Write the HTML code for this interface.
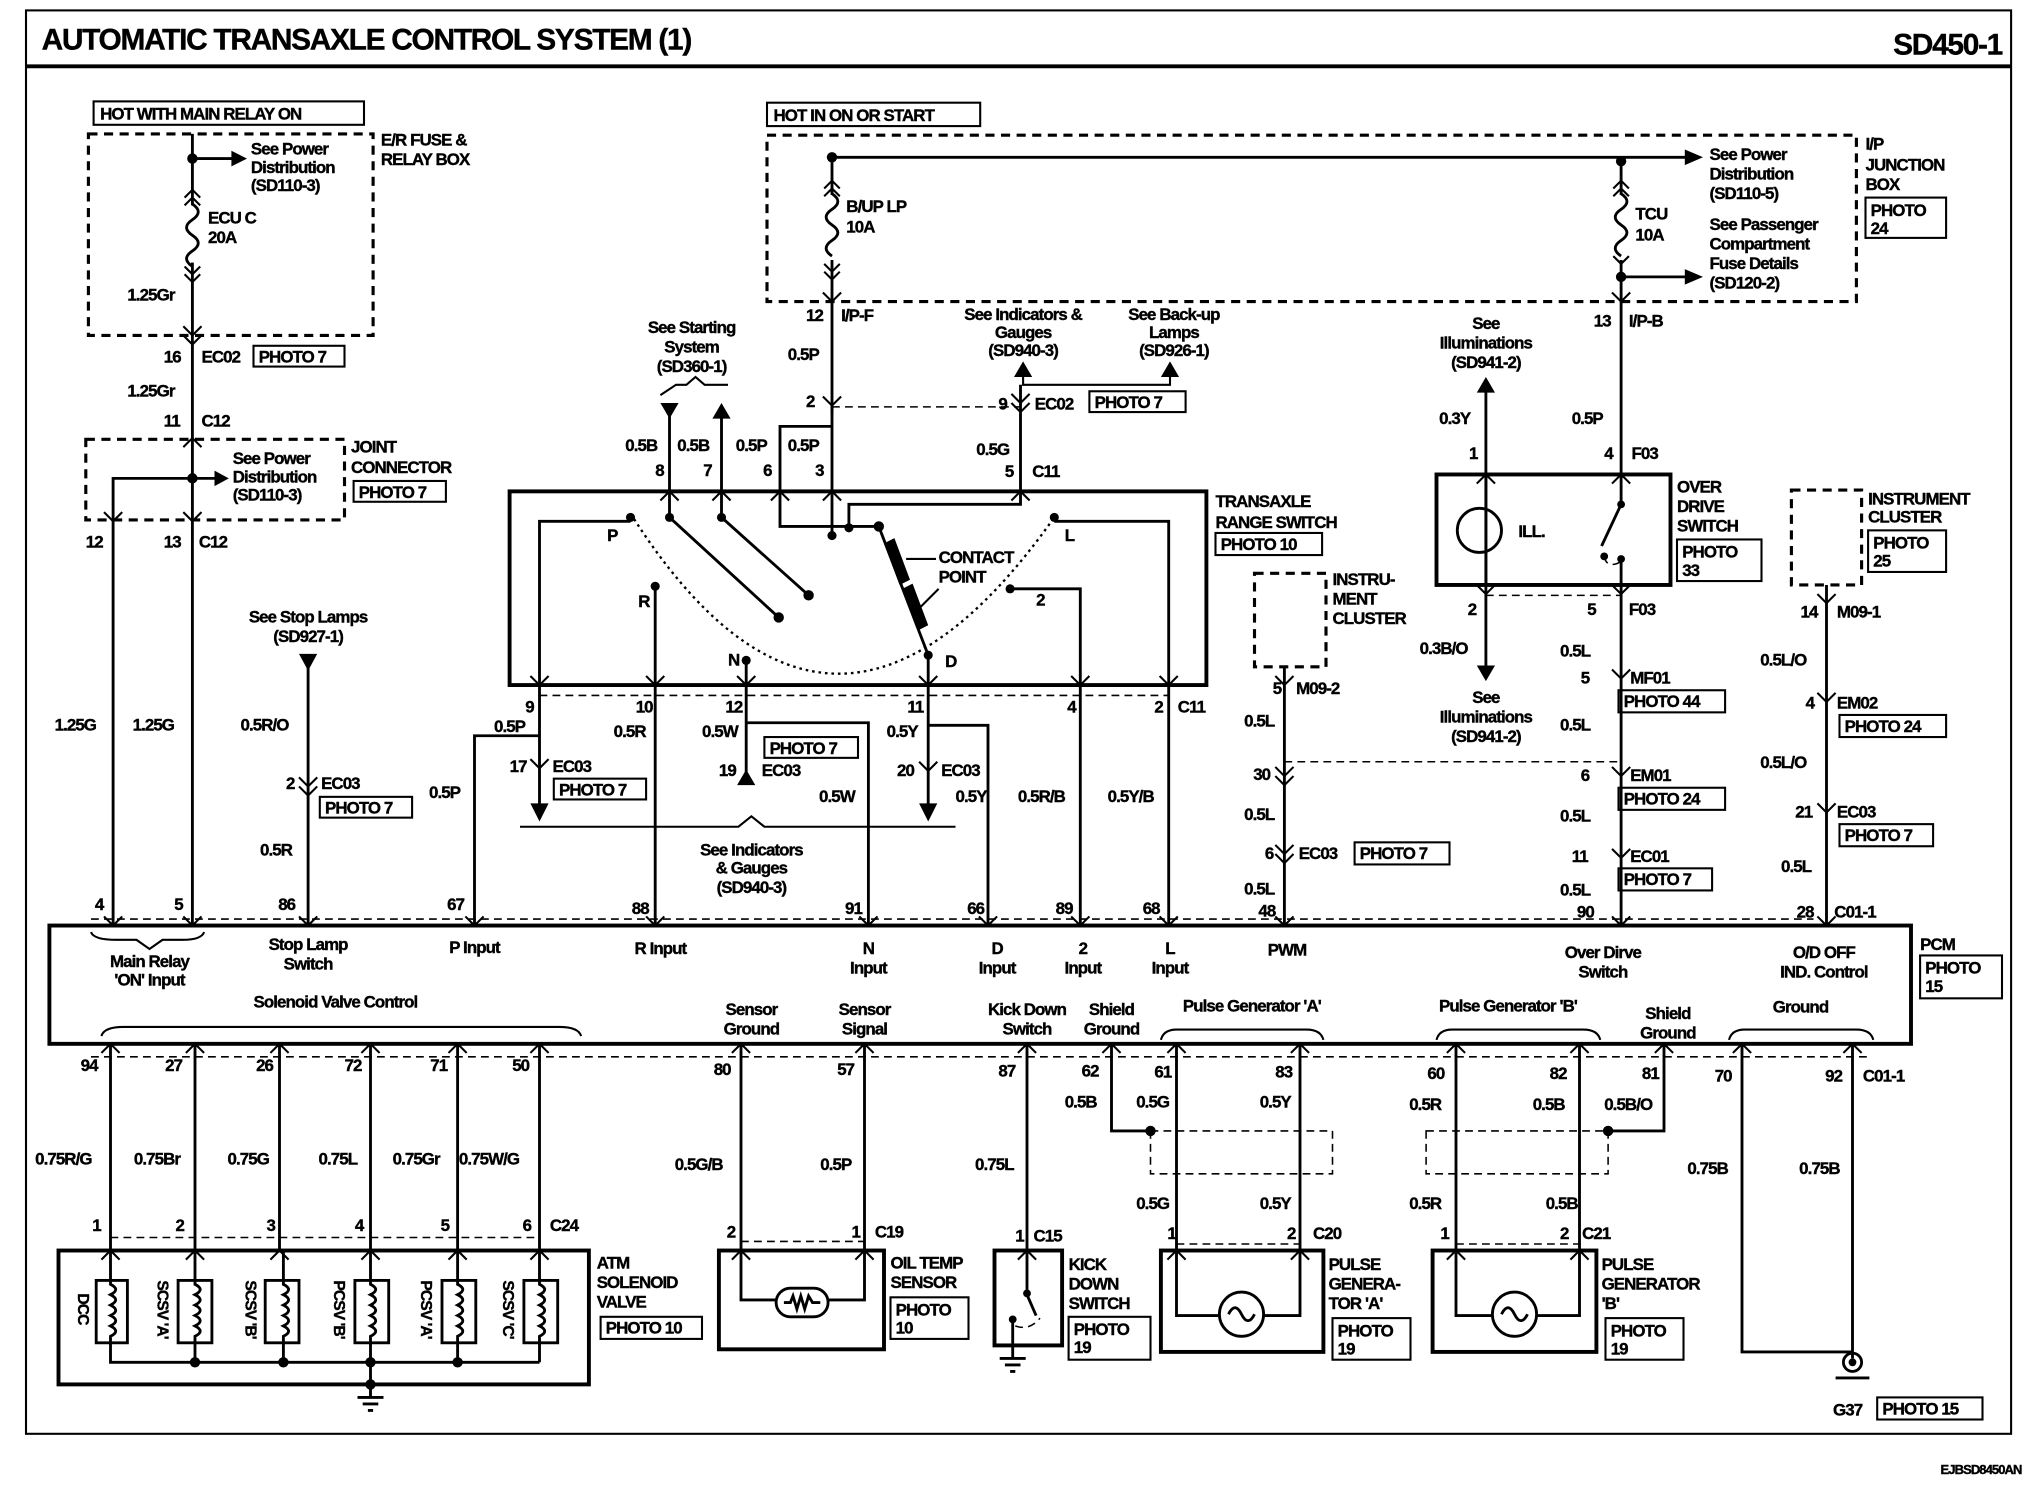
<!DOCTYPE html>
<html><head><meta charset="utf-8"><style>
html,body{margin:0;padding:0;background:#fff;}
svg{display:block}
text{font-family:"Liberation Sans",Arial,sans-serif;font-weight:bold;font-size:13px;letter-spacing:-0.7px;fill:#000;stroke:#000;stroke-width:0.3px}
.w{stroke:#000;stroke-width:2.2;fill:none}
.d{stroke:#000;stroke-width:2.4;fill:none;stroke-dasharray:7,5}
.dt{stroke:#000;stroke-width:1.2;fill:none;stroke-dasharray:6,4}
.b{stroke:#000;stroke-width:1.6;fill:none}
.bx{stroke:#000;stroke-width:3;fill:none}
.c{stroke:#000;stroke-width:1.6;fill:none}
</style></head><body>
<svg width="2028" height="1504" viewBox="0 0 1560 1157" preserveAspectRatio="none" xmlns="http://www.w3.org/2000/svg">
<!-- frame -->
<rect x="20" y="8" width="1527" height="1095" class="b" stroke-width="1.5"/>
<line x1="20" y1="51" x2="1547" y2="51" stroke="#000" stroke-width="3"/>
<text x="32" y="38" style="font-size:23px;letter-spacing:-1px">AUTOMATIC TRANSAXLE CONTROL SYSTEM (1)</text>
<text x="1540" y="42" text-anchor="end" style="font-size:23px;letter-spacing:-1px">SD450-1</text>
<text x="1555" y="1134" text-anchor="end" style="font-size:10px">EJBSD8450AN</text>

<!-- LEFT POWER -->
<rect x="72" y="78" width="208" height="18" class="b"/><text x="77" y="92">HOT WITH MAIN RELAY ON</text>
<rect x="68" y="103" width="219" height="155" class="d"/>
<text x="293" y="112">E/R FUSE &amp;</text><text x="293" y="127">RELAY BOX</text>
<path class="w" d="M148 103 V712"/>
<circle cx="148" cy="122" r="4"/>
<path class="w" d="M148 122 H180"/><path d="M178 116 L190 122 L178 128Z"/>
<text x="193" y="119">See Power</text><text x="193" y="133">Distribution</text><text x="193" y="147">(SD110-3)</text>
<rect x="140" y="158" width="16" height="44" fill="#fff"/>
<path class="w" d="M148 157 q9 6 0 12 q-9 6 0 12 q9 6 0 12 q-9 6 0 12"/>
<path class="c" d="M142 152 L148 146 L154 152 M142 158 L148 152 L154 158 M142 205 L148 211 L154 205 M142 211 L148 217 L154 211"/>
<text x="160" y="172">ECU C</text><text x="160" y="187">20A</text>
<text x="98" y="231">1.25Gr</text>
<path class="c" d="M141 251 L148 258 L155 251 M141 258 L148 265 L155 258"/>
<text x="126" y="279">16</text><text x="155" y="279">EC02</text>
<rect x="195" y="266" width="70" height="16" class="b"/><text x="199" y="279">PHOTO 7</text>
<text x="98" y="305">1.25Gr</text>
<text x="126" y="328">11</text><text x="155" y="328">C12</text>
<path class="c" d="M141 344 L148 337 L155 344"/>
<rect x="66" y="338" width="199" height="62" class="d"/>
<text x="270" y="348">JOINT</text><text x="270" y="364">CONNECTOR</text>
<rect x="272" y="370" width="71" height="16" class="b"/><text x="276" y="383">PHOTO 7</text>
<circle cx="148" cy="368" r="4"/>
<path class="w" d="M148 368 H166"/><path d="M165 362 L176 368 L165 374Z"/>
<text x="179" y="357">See Power</text><text x="179" y="371">Distribution</text><text x="179" y="385">(SD110-3)</text>
<path class="w" d="M148 368 H87 V712"/>
<path class="c" d="M80 394 L87 401 L94 394 M141 394 L148 401 L155 394"/>
<text x="66" y="421">12</text><text x="126" y="421">13</text><text x="153" y="421">C12</text>
<text x="42" y="562">1.25G</text><text x="102" y="562">1.25G</text>
<!-- stop lamp -->
<text x="237" y="479" text-anchor="middle">See Stop Lamps</text><text x="237" y="494" text-anchor="middle">(SD927-1)</text>
<path d="M230 503 L244 503 L237 516Z"/>
<path class="w" d="M237 505 V712"/>
<text x="185" y="562">0.5R/O</text>
<path class="c" d="M230 598 L237 605 L244 598 M230 605 L237 612 L244 605"/>
<text x="220" y="607">2</text><text x="247" y="607">EC03</text>
<rect x="246" y="613" width="71" height="16" class="b"/><text x="250" y="626">PHOTO 7</text>
<text x="200" y="658">0.5R</text>

<!-- HOT IN ON OR START -->
<rect x="590" y="79" width="164" height="18" class="b"/><text x="595" y="93">HOT IN ON OR START</text>
<rect x="590" y="104" width="838" height="128" class="d"/>
<circle cx="640" cy="121" r="4"/><circle cx="1247" cy="124" r="4"/>
<path class="w" d="M640 121 H1298"/><path d="M1296 115 L1310 121 L1296 127Z"/>
<text x="1315" y="123">See Power</text><text x="1315" y="138">Distribution</text><text x="1315" y="153">(SD110-5)</text>
<text x="1315" y="177">See Passenger</text><text x="1315" y="192">Compartment</text><text x="1315" y="207">Fuse Details</text><text x="1315" y="222">(SD120-2)</text>
<text x="1435" y="115">I/P</text><text x="1435" y="131">JUNCTION</text><text x="1435" y="146">BOX</text>
<rect x="1435" y="152" width="62" height="31" class="b"/><text x="1439" y="166">PHOTO</text><text x="1439" y="180">24</text>
<path class="w" d="M640 121 V318"/>
<path class="w" d="M1247 121 V365"/>
<rect x="632" y="150" width="16" height="50" fill="#fff"/><rect x="1239" y="150" width="16" height="50" fill="#fff"/>
<path class="w" d="M640 149 q9 6 0 12 q-9 6 0 12 q9 6 0 12 q-9 6 0 12 M1247 149 q9 6 0 12 q-9 6 0 12 q9 6 0 12 q-9 6 0 12"/>
<path class="c" d="M634 145 L640 139 L646 145 M634 151 L640 145 L646 151 M634 203 L640 209 L646 203 M634 209 L640 215 L646 209"/>
<path class="c" d="M1241 145 L1247 139 L1253 145 M1241 151 L1247 145 L1253 151 M1241 197 L1247 203 L1253 197"/>
<text x="651" y="163">B/UP LP</text><text x="651" y="179">10A</text>
<text x="1258" y="169">TCU</text><text x="1258" y="185">10A</text>
<circle cx="1247" cy="213" r="4"/>
<path class="w" d="M1247 213 H1298"/><path d="M1296 207 L1310 213 L1296 219Z"/>
<path class="c" d="M633 225 L640 232 L647 225 M1240 225 L1247 232 L1254 225"/>
<text x="620" y="247">12</text><text x="647" y="247">I/P-F</text>
<text x="1226" y="251">13</text><text x="1253" y="251">I/P-B</text>
<text x="606" y="277">0.5P</text>
<path class="c" d="M633 305 L640 312 L647 305"/>
<text x="620" y="313">2</text>
<path class="dt" d="M640 313 H785"/>
<path class="w" d="M640 312 V328 H600 V378 M640 328 V378"/>

<!-- transaxle top -->
<text x="532" y="256" text-anchor="middle">See Starting</text><text x="532" y="271" text-anchor="middle">System</text><text x="532" y="286" text-anchor="middle">(SD360-1)</text>
<path class="c" d="M508 304 L520 296 H528 L535 290 L542 296 H560"/>
<path d="M508 310 L522 310 L515 322Z"/><path class="w" d="M515 318 V378"/>
<path d="M548 322 L562 322 L555 310Z"/><path class="w" d="M555 318 V378"/>
<text x="481" y="347">0.5B</text><text x="521" y="347">0.5B</text><text x="566" y="347">0.5P</text><text x="606" y="347">0.5P</text>
<text x="504" y="366">8</text><text x="541" y="366">7</text><text x="587" y="366">6</text><text x="627" y="366">3</text>
<text x="787" y="246" text-anchor="middle">See Indicators &amp;</text><text x="787" y="260" text-anchor="middle">Gauges</text><text x="787" y="274" text-anchor="middle">(SD940-3)</text>
<text x="903" y="246" text-anchor="middle">See Back-up</text><text x="903" y="260" text-anchor="middle">Lamps</text><text x="903" y="274" text-anchor="middle">(SD926-1)</text>
<path d="M780 290 L794 290 L787 278Z"/>
<path class="c" d="M787 290 V296 H900 V286"/><path d="M893 290 L907 290 L900 278Z"/>
<path class="w" d="M785 296 V378"/>
<path class="c" d="M778 303 L785 310 L792 303 M778 310 L785 317 L792 310"/>
<text x="768" y="315">9</text><text x="796" y="315">EC02</text>
<rect x="838" y="301" width="74" height="16" class="b"/><text x="842" y="314">PHOTO 7</text>
<text x="751" y="350">0.5G</text><text x="773" y="367">5</text><text x="794" y="367">C11</text>
<path class="c" d="M508 385 L515 378 L522 385 M548 385 L555 378 L562 385 M593 385 L600 378 L607 385 M633 385 L640 378 L647 385 M778 385 L785 378 L792 385"/>

<!-- transaxle box -->
<rect x="392" y="378" width="536" height="149" class="bx"/>
<text x="935" y="390">TRANSAXLE</text><text x="935" y="406">RANGE SWITCH</text>
<rect x="935" y="410" width="82" height="17" class="b"/><text x="939" y="423">PHOTO 10</text>
<path d="M485 395 Q640 640 811 398" stroke="#000" stroke-width="1.8" fill="none" stroke-dasharray="2,3"/>
<path class="w" d="M415 527 V401 H485"/><circle cx="485" cy="398" r="3.5"/>
<path class="w" d="M504 527 V453"/><circle cx="504" cy="451" r="3.5"/>
<path class="w" d="M574 527 V508"/><circle cx="574" cy="508" r="3.5"/>
<path class="w" d="M714 527 V504"/><circle cx="714" cy="504" r="3.5"/>
<path class="w" d="M777 453 H831 V527"/><circle cx="777" cy="453" r="3.5"/>
<path class="w" d="M811 401 H899 V527"/><circle cx="811" cy="398" r="3.5"/>
<path class="w" d="M515 378 V398 L599 475"/><circle cx="515" cy="398" r="3.5"/><circle cx="599" cy="475" r="4"/>
<path class="w" d="M555 378 V398 L622 458"/><circle cx="555" cy="398" r="3.5"/><circle cx="622" cy="458" r="4"/>
<path class="w" d="M600 378 V405 H676"/><path class="w" d="M640 378 V410"/><circle cx="640" cy="412" r="3.5"/>
<path class="w" d="M785 378 V388 H653 V404"/><circle cx="653" cy="406" r="3.5"/>
<path class="w" d="M676 405 L714 504"/><circle cx="676" cy="405" r="4"/>
<path d="M680 418 L688 414 L700 446 L692 450Z M694 453 L702 449 L714 481 L706 485Z"/>
<path class="c" d="M697 430 H720 M705 470 L722 453"/>
<text x="722" y="433">CONTACT</text><text x="722" y="448">POINT</text>
<text x="467" y="416">P</text><text x="491" y="467">R</text><text x="560" y="512">N</text><text x="727" y="513">D</text><text x="797" y="466">2</text><text x="819" y="416">L</text>
<path class="c" d="M408 520 L415 527 L422 520 M497 520 L504 527 L511 520 M567 520 L574 527 L581 520 M707 520 L714 527 L721 520 M824 520 L831 527 L838 520 M892 520 L899 527 L906 520"/>
<path class="dt" d="M415 535 H899"/>
<text x="404" y="548">9</text><text x="489" y="548">10</text><text x="558" y="548">12</text><text x="698" y="548">11</text><text x="821" y="548">4</text><text x="888" y="548">2</text><text x="906" y="548">C11</text>

<!-- below transaxle -->
<path class="w" d="M415 527 V622"/><path d="M408 618 L422 618 L415 632Z"/>
<path class="w" d="M415 566 H365 V712"/>
<text x="380" y="563">0.5P</text><text x="330" y="614">0.5P</text>
<path class="c" d="M408 584 L415 591 L422 584"/>
<text x="392" y="594">17</text><text x="425" y="594">EC03</text>
<rect x="426" y="599" width="71" height="16" class="b"/><text x="430" y="612">PHOTO 7</text>
<path class="w" d="M504 527 V712"/><text x="472" y="567">0.5R</text>
<path class="w" d="M574 527 V600 M574 556 H668 V712"/>
<path d="M567 604 L581 604 L574 592Z"/>
<text x="540" y="567">0.5W</text>
<rect x="588" y="567" width="72" height="16" class="b"/><text x="592" y="580">PHOTO 7</text>
<text x="553" y="597">19</text><text x="586" y="597">EC03</text>
<text x="630" y="617">0.5W</text>
<path class="w" d="M714 527 V622 M714 558 H760 V712"/><path d="M707 618 L721 618 L714 632Z"/>
<text x="682" y="567">0.5Y</text>
<path class="c" d="M707 586 L714 593 L721 586"/>
<text x="690" y="597">20</text><text x="724" y="597">EC03</text>
<text x="735" y="617">0.5Y</text>
<path class="w" d="M831 527 V712"/><text x="783" y="617">0.5R/B</text>
<path class="w" d="M899 527 V712"/><text x="852" y="617">0.5Y/B</text>
<path class="c" d="M400 636 H568 L578 628 L588 636 H735"/>
<text x="578" y="658" text-anchor="middle">See Indicators</text><text x="578" y="672" text-anchor="middle">&amp; Gauges</text><text x="578" y="687" text-anchor="middle">(SD940-3)</text>

<!-- middle instrument cluster -->
<rect x="965" y="441" width="55" height="72" class="d"/>
<text x="1025" y="450">INSTRU-</text><text x="1025" y="465">MENT</text><text x="1025" y="480">CLUSTER</text>
<path class="w" d="M988 513 V712"/>
<path class="c" d="M981 520 L988 527 L995 520"/>
<text x="979" y="534">5</text><text x="997" y="534">M09-2</text>
<text x="957" y="559">0.5L</text>
<path class="c" d="M981 590 L988 597 L995 590 M981 597 L988 604 L995 597"/>
<text x="964" y="600">30</text>
<path class="dt" d="M988 586 H1247"/>
<text x="957" y="631">0.5L</text>
<path class="c" d="M981 650 L988 657 L995 650 M981 657 L988 664 L995 657"/>
<text x="973" y="661">6</text><text x="999" y="661">EC03</text>
<rect x="1042" y="648" width="73" height="17" class="b"/><text x="1046" y="661">PHOTO 7</text>
<text x="957" y="688">0.5L</text>

<!-- over drive switch -->
<text x="1143" y="253" text-anchor="middle">See</text><text x="1143" y="268" text-anchor="middle">Illuminations</text><text x="1143" y="283" text-anchor="middle">(SD941-2)</text>
<path d="M1136 302 L1150 302 L1143 290Z"/>
<path class="w" d="M1143 300 V520"/>
<text x="1107" y="326">0.3Y</text><text x="1209" y="326">0.5P</text>
<text x="1130" y="353">1</text><text x="1234" y="353">4</text><text x="1255" y="353">F03</text>
<path class="c" d="M1136 372 L1143 365 L1150 372 M1240 372 L1247 365 L1254 372"/>
<rect x="1105" y="365" width="180" height="85" class="bx"/>
<circle cx="1138" cy="408" r="17" class="w" fill="#fff"/><path class="w" d="M1143 365 V450"/>
<text x="1168" y="413">ILL.</text>
<path class="w" d="M1247 365 V388 L1232 420"/><circle cx="1247" cy="388" r="3"/>
<path class="w" d="M1247 450 V432"/><circle cx="1247" cy="430" r="3"/><circle cx="1234" cy="428" r="3"/>
<path class="dt" d="M1234 428 Q1236 438 1247 432"/>
<text x="1290" y="379">OVER</text><text x="1290" y="394">DRIVE</text><text x="1290" y="409">SWITCH</text>
<rect x="1290" y="415" width="65" height="32" class="b"/><text x="1294" y="429">PHOTO</text><text x="1294" y="443">33</text>
<path class="c" d="M1136 450 L1143 457 L1150 450 M1240 450 L1247 457 L1254 450"/>
<path class="dt" d="M1143 458 H1247"/>
<text x="1129" y="473">2</text><text x="1221" y="473">5</text><text x="1253" y="473">F03</text>
<path d="M1136 512 L1150 512 L1143 524Z"/>
<text x="1092" y="503">0.3B/O</text>
<text x="1143" y="541" text-anchor="middle">See</text><text x="1143" y="556" text-anchor="middle">Illuminations</text><text x="1143" y="571" text-anchor="middle">(SD941-2)</text>
<path class="w" d="M1247 450 V712"/>
<text x="1200" y="505">0.5L</text>
<path class="c" d="M1240 515 L1247 522 L1254 515"/>
<text x="1216" y="526">5</text><text x="1254" y="526">MF01</text>
<rect x="1245" y="531" width="82" height="17" class="b"/><text x="1249" y="544">PHOTO 44</text>
<text x="1200" y="562">0.5L</text>
<path class="c" d="M1240 590 L1247 597 L1254 590"/>
<text x="1216" y="601">6</text><text x="1254" y="601">EM01</text>
<rect x="1245" y="606" width="82" height="17" class="b"/><text x="1249" y="619">PHOTO 24</text>
<text x="1200" y="632">0.5L</text>
<path class="c" d="M1240 653 L1247 660 L1254 653"/>
<text x="1209" y="663">11</text><text x="1254" y="663">EC01</text>
<rect x="1245" y="668" width="72" height="17" class="b"/><text x="1249" y="681">PHOTO 7</text>
<text x="1200" y="689">0.5L</text>

<!-- right instrument cluster -->
<rect x="1378" y="377" width="54" height="73" class="d"/>
<text x="1437" y="388">INSTRUMENT</text><text x="1437" y="402">CLUSTER</text>
<rect x="1437" y="408" width="60" height="32" class="b"/><text x="1441" y="422">PHOTO</text><text x="1441" y="436">25</text>
<path class="w" d="M1405 450 V712"/>
<path class="c" d="M1398 457 L1405 464 L1412 457"/>
<text x="1385" y="475">14</text><text x="1413" y="475">M09-1</text>
<text x="1354" y="512">0.5L/O</text>
<path class="c" d="M1398 533 L1405 540 L1412 533"/>
<text x="1389" y="545">4</text><text x="1413" y="545">EM02</text>
<rect x="1415" y="550" width="82" height="17" class="b"/><text x="1419" y="563">PHOTO 24</text>
<text x="1354" y="591">0.5L/O</text>
<path class="c" d="M1398 618 L1405 625 L1412 618"/>
<text x="1381" y="629">21</text><text x="1413" y="629">EC03</text>
<rect x="1415" y="634" width="72" height="17" class="b"/><text x="1419" y="647">PHOTO 7</text>
<text x="1370" y="671">0.5L</text>

<!-- PCM -->
<path class="dt" d="M70 707 H1395"/>
<path class="c" d="M80 705 L87 712 L94 705 M141 705 L148 712 L155 705 M230 705 L237 712 L244 705 M358 705 L365 712 L372 705 M497 705 L504 712 L511 705 M661 705 L668 712 L675 705 M753 705 L760 712 L767 705 M824 705 L831 712 L838 705 M892 705 L899 712 L906 705 M981 705 L988 712 L995 705 M1240 705 L1247 712 L1254 705 M1398 705 L1405 712 L1412 705"/>
<text x="73" y="700">4</text><text x="134" y="700">5</text><text x="214" y="700">86</text><text x="344" y="700">67</text><text x="486" y="703">88</text><text x="650" y="703">91</text><text x="744" y="703">66</text><text x="812" y="703">89</text><text x="879" y="703">68</text><text x="968" y="705">48</text><text x="1213" y="706">90</text><text x="1382" y="706">28</text><text x="1411" y="706">C01-1</text>
<rect x="38" y="712" width="1432" height="91" class="bx"/>
<text x="1477" y="731">PCM</text>
<rect x="1477" y="735" width="63" height="33" class="b"/><text x="1481" y="749">PHOTO</text><text x="1481" y="763">15</text>
<path class="c" d="M70 717 Q72 723 90 723 H105 L115 730 L125 723 H140 Q155 723 157 717"/>
<text x="115" y="744" text-anchor="middle">Main Relay</text><text x="115" y="758" text-anchor="middle">'ON' Input</text>
<text x="237" y="731" text-anchor="middle">Stop Lamp</text><text x="237" y="746" text-anchor="middle">Switch</text>
<text x="365" y="733" text-anchor="middle">P Input</text>
<text x="508" y="734" text-anchor="middle">R Input</text>
<text x="668" y="734" text-anchor="middle">N</text><text x="668" y="749" text-anchor="middle">Input</text>
<text x="767" y="734" text-anchor="middle">D</text><text x="767" y="749" text-anchor="middle">Input</text>
<text x="833" y="734" text-anchor="middle">2</text><text x="833" y="749" text-anchor="middle">Input</text>
<text x="900" y="734" text-anchor="middle">L</text><text x="900" y="749" text-anchor="middle">Input</text>
<text x="990" y="735" text-anchor="middle">PWM</text>
<text x="1233" y="737" text-anchor="middle">Over Dirve</text><text x="1233" y="752" text-anchor="middle">Switch</text>
<text x="1403" y="737" text-anchor="middle">O/D OFF</text><text x="1403" y="752" text-anchor="middle">IND. Control</text>
<text x="258" y="775" text-anchor="middle">Solenoid Valve Control</text>
<path class="c" d="M78 797 Q80 790 95 790 H430 Q445 790 447 797"/>
<text x="578" y="781" text-anchor="middle">Sensor</text><text x="578" y="796" text-anchor="middle">Ground</text>
<text x="665" y="781" text-anchor="middle">Sensor</text><text x="665" y="796" text-anchor="middle">Signal</text>
<text x="790" y="781" text-anchor="middle">Kick Down</text><text x="790" y="796" text-anchor="middle">Switch</text>
<text x="855" y="781" text-anchor="middle">Shield</text><text x="855" y="796" text-anchor="middle">Ground</text>
<text x="963" y="778" text-anchor="middle">Pulse Generator 'A'</text>
<path class="c" d="M893 800 Q895 792 905 792 H1005 Q1016 792 1018 800"/>
<text x="1160" y="778" text-anchor="middle">Pulse Generator 'B'</text>
<path class="c" d="M1105 800 Q1107 792 1117 792 H1218 Q1229 792 1231 800"/>
<text x="1283" y="784" text-anchor="middle">Shield</text><text x="1283" y="799" text-anchor="middle">Ground</text>
<text x="1385" y="779" text-anchor="middle">Ground</text>
<path class="c" d="M1330 800 Q1332 792 1342 792 H1428 Q1439 792 1441 800"/>
<path class="c" d="M78 810 L85 803 L92 810 M143 810 L150 803 L157 810 M208 810 L215 803 L222 810 M278 810 L285 803 L292 810 M345 810 L352 803 L359 810 M408 810 L415 803 L422 810 M563 810 L570 803 L577 810 M658 810 L665 803 L672 810 M783 810 L790 803 L797 810 M848 810 L855 803 L862 810 M898 810 L905 803 L912 810 M993 810 L1000 803 L1007 810 M1113 810 L1120 803 L1127 810 M1208 810 L1215 803 L1222 810 M1273 810 L1280 803 L1287 810 M1333 810 L1340 803 L1347 810 M1418 810 L1425 803 L1432 810"/>
<path class="dt" d="M70 813 H1440"/>
<text x="62" y="824">94</text><text x="127" y="824">27</text><text x="197" y="824">26</text><text x="265" y="824">72</text><text x="331" y="824">71</text><text x="394" y="824">50</text><text x="549" y="827">80</text><text x="644" y="827">57</text><text x="768" y="828">87</text><text x="832" y="828">62</text><text x="888" y="829">61</text><text x="981" y="829">83</text><text x="1098" y="830">60</text><text x="1192" y="830">82</text><text x="1263" y="830">81</text><text x="1319" y="832">70</text><text x="1404" y="832">92</text><text x="1433" y="832">C01-1</text>

<!-- solenoid wires -->
<path class="w" d="M85 803 V962 M150 803 V962 M215 803 V962 M285 803 V962 M352 803 V962 M415 803 V962"/>
<text x="27" y="896">0.75R/G</text><text x="103" y="896">0.75Br</text><text x="175" y="896">0.75G</text><text x="245" y="896">0.75L</text><text x="302" y="896">0.75Gr</text><text x="353" y="896">0.75W/G</text>
<path class="dt" d="M85 952 H415"/>
<text x="71" y="947">1</text><text x="135" y="947">2</text><text x="205" y="947">3</text><text x="273" y="947">4</text><text x="339" y="947">5</text><text x="402" y="947">6</text><text x="423" y="947">C24</text>
<rect x="45" y="962" width="408" height="103" class="bx"/>
<path class="c" d="M78 969 L85 962 L92 969 M143 969 L150 962 L157 969 M208 969 L215 962 L222 969 M278 969 L285 962 L292 969 M345 969 L352 962 L359 969 M408 969 L415 962 L422 969"/>
<rect x="74" y="985" width="24" height="48" class="w"/><rect x="137" y="985" width="26" height="48" class="w"/><rect x="204" y="985" width="26" height="48" class="w"/><rect x="273" y="985" width="26" height="48" class="w"/><rect x="340" y="985" width="26" height="48" class="w"/><rect x="403" y="985" width="26" height="48" class="w"/>
<path class="w" d="M85 962 V988 q8 4 0 8 q8 4 0 8 q8 4 0 8 q8 4 0 8 q8 4 0 8 V1048 H415 M150 962 V988 q8 4 0 8 q8 4 0 8 q8 4 0 8 q8 4 0 8 q8 4 0 8 V1048 M218 962 V988 q8 4 0 8 q8 4 0 8 q8 4 0 8 q8 4 0 8 q8 4 0 8 V1048 M285 962 V988 q8 4 0 8 q8 4 0 8 q8 4 0 8 q8 4 0 8 q8 4 0 8 V1048 M352 962 V988 q8 4 0 8 q8 4 0 8 q8 4 0 8 q8 4 0 8 q8 4 0 8 V1048 M415 962 V988 q8 4 0 8 q8 4 0 8 q8 4 0 8 q8 4 0 8 q8 4 0 8 V1048"/>
<circle cx="150" cy="1048" r="4"/><circle cx="218" cy="1048" r="4"/><circle cx="285" cy="1048" r="4"/><circle cx="352" cy="1048" r="4"/><circle cx="285" cy="1065" r="4"/>
<path class="w" d="M285 1048 V1075 M275 1075 H295 M279 1080 H291 M283 1085 H287"/>
<text transform="translate(60,995) rotate(90)" style="font-size:12px">DCC</text>
<text transform="translate(121,985) rotate(90)" style="font-size:12px">SCSV 'A'</text>
<text transform="translate(189,985) rotate(90)" style="font-size:12px">SCSV 'B'</text>
<text transform="translate(257,985) rotate(90)" style="font-size:12px">PCSV 'B'</text>
<text transform="translate(324,985) rotate(90)" style="font-size:12px">PCSV 'A'</text>
<text transform="translate(387,985) rotate(90)" style="font-size:12px">SCSV 'C'</text>
<text x="459" y="976">ATM</text><text x="459" y="991">SOLENOID</text><text x="459" y="1006">VALVE</text>
<rect x="462" y="1013" width="78" height="17" class="b"/><text x="466" y="1026">PHOTO 10</text>

<!-- oil temp -->
<path class="w" d="M570 803 V1000 H598 M665 803 V1000 H637"/>
<text x="519" y="900">0.5G/B</text><text x="631" y="900">0.5P</text>
<text x="559" y="952">2</text><text x="655" y="952">1</text><text x="673" y="952">C19</text>
<path class="dt" d="M570 955 H665"/>
<rect x="553" y="962" width="127" height="76" class="bx"/>
<path class="c" d="M563 969 L570 962 L577 969 M658 969 L665 962 L672 969"/>
<rect x="597" y="991" width="40" height="22" rx="11" class="w"/>
<path class="w" d="M603 1002 H608 L610 997 L613 1007 L616 997 L619 1007 L622 997 L625 1002 H631"/>
<text x="685" y="976">OIL TEMP</text><text x="685" y="991">SENSOR</text>
<rect x="685" y="998" width="60" height="32" class="b"/><text x="689" y="1012">PHOTO</text><text x="689" y="1026">10</text>

<!-- kick down -->
<path class="w" d="M790 803 V996 L797 1012"/>
<text x="750" y="900">0.75L</text>
<text x="781" y="955">1</text><text x="795" y="955">C15</text>
<rect x="765" y="962" width="52" height="73" class="bx"/>
<path class="c" d="M783 969 L790 962 L797 969"/>
<circle cx="790" cy="995" r="3"/><circle cx="779" cy="1015" r="3"/>
<path class="w" d="M779 1015 V1045 M769 1045 H789 M773 1050 H785 M777 1055 H781"/>
<path class="dt" d="M781 1020 Q792 1024 800 1014"/>
<text x="822" y="977">KICK</text><text x="822" y="992">DOWN</text><text x="822" y="1007">SWITCH</text>
<rect x="822" y="1013" width="63" height="33" class="b"/><text x="826" y="1027">PHOTO</text><text x="826" y="1041">19</text>

<!-- pulse A -->
<path class="w" d="M855 803 V870 H885"/><circle cx="885" cy="870" r="4"/>
<rect x="885" y="870" width="140" height="33" class="dt"/>
<path class="w" d="M905 803 V1012 H938 M1000 803 V1012 H972"/>
<text x="819" y="852">0.5B</text><text x="874" y="852">0.5G</text><text x="969" y="852">0.5Y</text>
<text x="874" y="930">0.5G</text><text x="969" y="930">0.5Y</text>
<text x="898" y="953">1</text><text x="990" y="953">2</text><text x="1010" y="953">C20</text>
<path class="dt" d="M905 957 H1000"/>
<rect x="893" y="962" width="125" height="78" class="bx"/>
<path class="c" d="M898 969 L905 962 L912 969 M993 969 L1000 962 L1007 969"/>
<circle cx="955" cy="1011" r="17" class="w" fill="#fff"/>
<path class="w" d="M945 1011 q5 -10 10 0 q5 10 10 0"/>
<text x="1022" y="977">PULSE</text><text x="1022" y="992">GENERA-</text><text x="1022" y="1007">TOR 'A'</text>
<rect x="1025" y="1014" width="60" height="32" class="b"/><text x="1029" y="1028">PHOTO</text><text x="1029" y="1042">19</text>

<!-- pulse B -->
<path class="w" d="M1280 803 V870 H1237"/><circle cx="1237" cy="870" r="4"/>
<rect x="1097" y="870" width="140" height="33" class="dt"/>
<path class="w" d="M1120 803 V1012 H1148 M1215 803 V1012 H1182"/>
<text x="1084" y="854">0.5R</text><text x="1179" y="854">0.5B</text><text x="1234" y="854">0.5B/O</text>
<text x="1084" y="930">0.5R</text><text x="1189" y="930">0.5B</text>
<text x="1108" y="953">1</text><text x="1200" y="953">2</text><text x="1217" y="953">C21</text>
<path class="dt" d="M1120 957 H1215"/>
<rect x="1102" y="962" width="126" height="78" class="bx"/>
<path class="c" d="M1113 969 L1120 962 L1127 969 M1208 969 L1215 962 L1222 969"/>
<circle cx="1165" cy="1011" r="17" class="w" fill="#fff"/>
<path class="w" d="M1155 1011 q5 -10 10 0 q5 10 10 0"/>
<text x="1232" y="977">PULSE</text><text x="1232" y="992">GENERATOR</text><text x="1232" y="1007">'B'</text>
<rect x="1235" y="1014" width="60" height="32" class="b"/><text x="1239" y="1028">PHOTO</text><text x="1239" y="1042">19</text>

<!-- ground -->
<path class="w" d="M1340 803 V1040 H1425 M1425 803 V1045"/>
<text x="1298" y="903">0.75B</text><text x="1384" y="903">0.75B</text>
<circle cx="1425" cy="1048" r="7" class="w"/><circle cx="1425" cy="1048" r="3"/>
<path class="w" d="M1412 1060 H1438"/>
<text x="1410" y="1089">G37</text>
<rect x="1444" y="1075" width="81" height="17" class="b"/><text x="1448" y="1088">PHOTO 15</text>
</svg>
</body></html>
